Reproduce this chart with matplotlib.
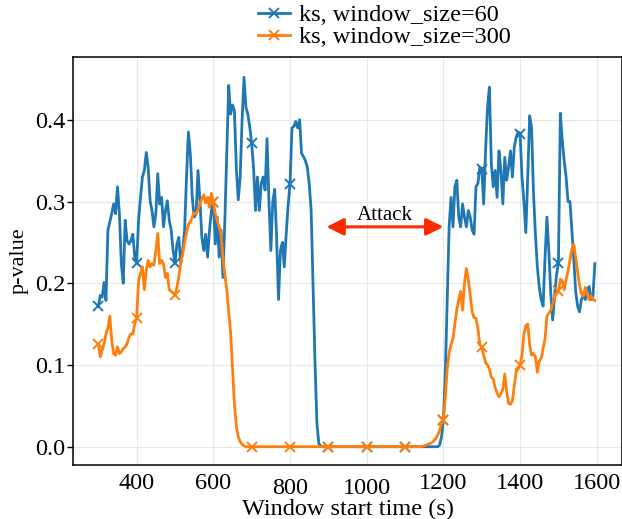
import numpy as np
import matplotlib
matplotlib.use('Agg')
import matplotlib.pyplot as plt

# window start times, one sample every 5 s
t = np.arange(300, 1600, 5)

ks60 = [
    0.172, 0.185, 0.183, 0.201, 0.179, 0.265, 0.275, 0.285, 0.297, 0.285, 0.318, 0.285, 0.224, 0.200, 0.277, 0.252, 0.248, 0.252, 0.260, 0.232,
    0.225, 0.277, 0.305, 0.330, 0.338, 0.360, 0.342, 0.301, 0.289, 0.269, 0.285, 0.334, 0.297, 0.305, 0.269, 0.289, 0.301, 0.277, 0.265, 0.240,
    0.225, 0.248, 0.256, 0.224, 0.240, 0.265, 0.330, 0.385, 0.358, 0.305, 0.281, 0.285, 0.338, 0.301, 0.256, 0.240, 0.260, 0.232, 0.265, 0.289,
    0.300, 0.248, 0.281, 0.232, 0.265, 0.207, 0.277, 0.358, 0.442, 0.407, 0.418, 0.411, 0.340, 0.302, 0.330, 0.400, 0.452, 0.415, 0.407, 0.391,
    0.371, 0.340, 0.289, 0.330, 0.289, 0.322, 0.330, 0.314, 0.377, 0.300, 0.240, 0.300, 0.315, 0.256, 0.180, 0.240, 0.250, 0.220, 0.260, 0.295,
    0.322, 0.390, 0.392, 0.398, 0.390, 0.400, 0.359, 0.355, 0.350, 0.342, 0.322, 0.290, 0.200, 0.106, 0.030, 0.004, 0.001, 0.0, 0.0, 0.0,
    0.0, 0.0, 0.0, 0.0, 0.0, 0.0, 0.0, 0.0, 0.0, 0.0, 0.0, 0.0, 0.0, 0.0, 0.0, 0.0, 0.0, 0.0, 0.0, 0.0,
    0.0, 0.0, 0.0, 0.0, 0.0, 0.0, 0.0, 0.0, 0.0, 0.0, 0.0, 0.0, 0.0, 0.0, 0.0, 0.0, 0.0, 0.0, 0.0, 0.0,
    0.0, 0.0, 0.0, 0.0, 0.0, 0.0, 0.0, 0.0, 0.0, 0.0, 0.0, 0.0, 0.0, 0.0, 0.0, 0.0, 0.0, 0.0, 0.002, 0.012,
    0.033, 0.090, 0.180, 0.270, 0.305, 0.269, 0.318, 0.326, 0.281, 0.269, 0.297, 0.281, 0.269, 0.289, 0.281, 0.265, 0.260, 0.318, 0.322, 0.342,
    0.340, 0.297, 0.362, 0.415, 0.440, 0.346, 0.318, 0.338, 0.305, 0.362, 0.338, 0.297, 0.354, 0.326, 0.342, 0.362, 0.330, 0.367, 0.379, 0.385,
    0.383, 0.330, 0.300, 0.262, 0.330, 0.405, 0.390, 0.310, 0.260, 0.220, 0.195, 0.180, 0.172, 0.230, 0.281, 0.240, 0.188, 0.155, 0.185, 0.210,
    0.225, 0.408, 0.375, 0.350, 0.330, 0.300, 0.300, 0.265, 0.230, 0.190, 0.172, 0.165, 0.180, 0.185, 0.180, 0.190, 0.196, 0.180, 0.184, 0.224,
]

ks300 = [
    0.126, 0.110, 0.118, 0.126, 0.138, 0.145, 0.160, 0.130, 0.114, 0.112, 0.122, 0.114, 0.116, 0.120, 0.122, 0.126, 0.134, 0.138, 0.138, 0.150,
    0.158, 0.203, 0.212, 0.220, 0.192, 0.216, 0.228, 0.220, 0.224, 0.222, 0.240, 0.261, 0.224, 0.228, 0.224, 0.207, 0.212, 0.192, 0.190, 0.188,
    0.186, 0.195, 0.208, 0.225, 0.235, 0.250, 0.262, 0.272, 0.275, 0.281, 0.286, 0.285, 0.290, 0.298, 0.303, 0.308, 0.298, 0.305, 0.293, 0.310,
    0.299, 0.285, 0.277, 0.269, 0.260, 0.232, 0.210, 0.192, 0.165, 0.140, 0.095, 0.052, 0.025, 0.012, 0.006, 0.003, 0.001, 0.0, 0.0, 0.0,
    0.0, 0.0, 0.0, 0.0, 0.0, 0.0, 0.0, 0.0, 0.0, 0.0, 0.0, 0.0, 0.0, 0.0, 0.0, 0.0, 0.0, 0.0, 0.0, 0.0,
    0.0, 0.0, 0.0, 0.0, 0.0, 0.0, 0.0, 0.0, 0.0, 0.0, 0.0, 0.0, 0.0, 0.0, 0.0, 0.0, 0.0, 0.0, 0.0, 0.0,
    0.0, 0.0, 0.0, 0.0, 0.0, 0.0, 0.0, 0.0, 0.0, 0.0, 0.0, 0.0, 0.0, 0.0, 0.0, 0.0, 0.0, 0.0, 0.0, 0.0,
    0.0, 0.0, 0.0, 0.0, 0.0, 0.0, 0.0, 0.0, 0.0, 0.0, 0.0, 0.0, 0.0, 0.0, 0.0, 0.0, 0.0, 0.0, 0.0, 0.0,
    0.0, 0.0, 0.0, 0.0, 0.0, 0.0, 0.0, 0.0, 0.0, 0.0005, 0.001, 0.002, 0.003, 0.004, 0.005, 0.007, 0.010, 0.014, 0.020, 0.028,
    0.033, 0.060, 0.095, 0.115, 0.125, 0.133, 0.150, 0.168, 0.180, 0.190, 0.167, 0.200, 0.218, 0.205, 0.185, 0.165, 0.158, 0.157, 0.145, 0.125,
    0.122, 0.112, 0.103, 0.100, 0.095, 0.085, 0.083, 0.072, 0.066, 0.061, 0.065, 0.070, 0.089, 0.068, 0.053, 0.052, 0.056, 0.075, 0.092, 0.095,
    0.100, 0.112, 0.138, 0.148, 0.150, 0.125, 0.112, 0.114, 0.110, 0.091, 0.105, 0.108, 0.120, 0.132, 0.160, 0.163, 0.167, 0.175, 0.183, 0.187,
    0.190, 0.205, 0.203, 0.192, 0.205, 0.215, 0.228, 0.242, 0.248, 0.232, 0.214, 0.198, 0.187, 0.184, 0.195, 0.186, 0.180, 0.185, 0.180, 0.179,
]

labels = ['ks, window_size=60', 'ks, window_size=300']
xticks = [400, 600, 800, 1000, 1200, 1400, 1600]
yticks = [0.0, 0.1, 0.2, 0.3, 0.4]
attack = (895, 1200)

plt.rcParams['font.family'] = ['Liberation Serif', 'DejaVu Serif']

fig = plt.figure(figsize=(6.22, 5.19), dpi=100)
ax = fig.add_axes([0.118, 0.104, 0.8815, 0.786])

ax.plot(t, ks60, color='#1f77b4', lw=2.0, marker='x', markevery=20, ms=7.5, mew=1.4, label=labels[0])
ax.plot(t, ks300, color='#ff7f0e', lw=2.0, marker='x', markevery=20, ms=7.5, mew=1.4, label=labels[1])

ax.annotate('', xy=(attack[0], 0.269), xytext=(attack[1], 0.269),
            arrowprops=dict(arrowstyle='<|-|>', color='#ff2a00', lw=2.2,
                            mutation_scale=26, shrinkA=0, shrinkB=0))
ax.text(sum(attack) / 2, 0.2775, 'Attack', ha='center', va='baseline', fontsize=15)

ax.set_xlim(235, 1665)
ax.set_ylim(-0.0224, 0.4767)
ax.set_xticks(xticks)
ax.set_yticks(yticks)
ax.set_yticklabels(['%.1f' % v for v in yticks])
ax.grid(True, color='#e8e8e8', lw=0.8)
ax.set_axisbelow(True)
ax.tick_params(axis='x', length=0, pad=6, labelsize=17.5)
ax.tick_params(axis='y', length=4, width=1, pad=2, labelsize=17.5)
# 800 and 1000 sit a little lower in the original
for tick, v in zip(ax.xaxis.get_major_ticks(), xticks):
    if v in (800, 1000):
        tick.set_pad(9)
for s in ax.spines.values():
    s.set_linewidth(1.1)
    s.set_color('black')

ax.set_xlabel('Window start time (s)', fontsize=17.5, labelpad=0)
ax.set_ylabel('p-value', fontsize=16, labelpad=4)

fig.legend(loc='upper left', bbox_to_anchor=(258 / 622, 1 - 4 / 519), frameon=False,
           fontsize=17.5, borderpad=0, borderaxespad=0, labelspacing=0.0,
           handlelength=1.3, handletextpad=0.4)

fig.savefig('out.png', dpi=100)
